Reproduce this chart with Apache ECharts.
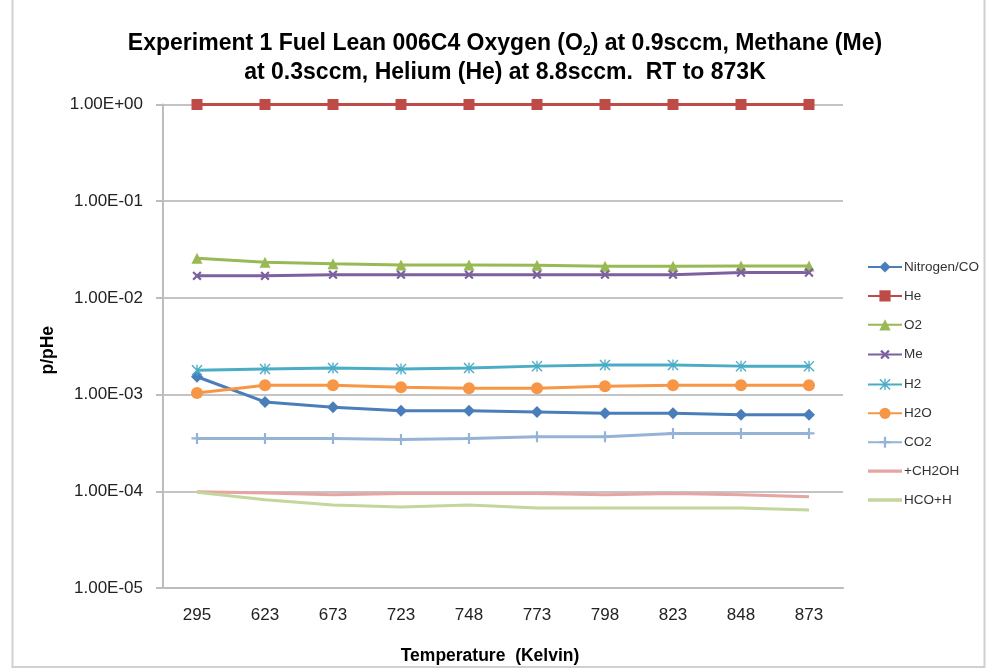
<!DOCTYPE html>
<html><head><meta charset="utf-8">
<script src="https://cdn.jsdelivr.net/npm/echarts@6/dist/echarts.min.js"></script>
<style>html,body{margin:0;padding:0;background:#fff}#c{width:989px;height:669px}</style>
</head><body><div id="c"></div>
<script>
const categories = ['295','623','673','723','748','773','798','823','848','873'];
const nitrogenCO = [1.53e-3, 8.4e-4, 7.4e-4, 6.8e-4, 6.8e-4, 6.6e-4, 6.4e-4, 6.4e-4, 6.2e-4, 6.2e-4];
const he = [1, 1, 1, 1, 1, 1, 1, 1, 1, 1];
const o2 = [0.0257, 0.0234, 0.0226, 0.0219, 0.0219, 0.0218, 0.0213, 0.0213, 0.0214, 0.0214];
const me = [0.0169, 0.0169, 0.0174, 0.0174, 0.0174, 0.0174, 0.0174, 0.0174, 0.0183, 0.0183];
const h2 = [1.79e-3, 1.84e-3, 1.88e-3, 1.84e-3, 1.88e-3, 1.97e-3, 2.02e-3, 2.02e-3, 1.97e-3, 1.97e-3];
const h2o = [1.04e-3, 1.25e-3, 1.25e-3, 1.19e-3, 1.16e-3, 1.16e-3, 1.22e-3, 1.25e-3, 1.25e-3, 1.25e-3];
const co2 = [3.52e-4, 3.52e-4, 3.52e-4, 3.44e-4, 3.52e-4, 3.66e-4, 3.66e-4, 3.97e-4, 3.97e-4, 3.97e-4];
const ch2oh = [9.9e-5, 9.6e-5, 9.2e-5, 9.5e-5, 9.5e-5, 9.5e-5, 9.2e-5, 9.5e-5, 9.2e-5, 8.8e-5];
const hcoh = [9.8e-5, 8.2e-5, 7.2e-5, 6.9e-5, 7.2e-5, 6.7e-5, 6.7e-5, 6.7e-5, 6.7e-5, 6.4e-5];
const seriesNames = ['Nitrogen/CO','He','O2','Me','H2','H2O','CO2','+CH2OH','HCO+H'];

const FONT = 'Liberation Sans';
const plusPath = 'path://M4,0H6V4H10V6H6V10H4V6H0V4H4Z';
const astPath = 'path://M4.4,0H5.6V10H4.4Z M0,0.9L0.9,0L10,9.1L9.1,10Z M9.1,0L10,0.9L0.9,10L0,9.1Z';
const lineIcon = 'path://M0,0H30V3H0Z';

function mk(name, data, color, symbol, size, extra) {
  return Object.assign({
    name: name, type: 'line', data: data,
    symbol: symbol, symbolSize: size,
    showSymbol: symbol !== 'none',
    lineStyle: { color: color, width: 3 },
    itemStyle: { color: color },
    emphasis: { disabled: true },
    animation: false
  }, extra || {});
}

const legendData = seriesNames.map(function (n) {
  return (n === '+CH2OH' || n === 'HCO+H') ? { name: n, icon: lineIcon } : { name: n };
});

const chart = echarts.init(document.getElementById('c'));
chart.setOption({
  backgroundColor: '#fff',
  animation: false,
  title: {
    text: 'Experiment 1 Fuel Lean 006C4 Oxygen (O{sub|2}) at 0.9sccm, Methane (Me)\nat 0.3sccm, Helium (He) at 8.8sccm.  RT to 873K',
    left: 500, top: 24, textAlign: 'center',
    textStyle: {
      fontFamily: FONT, fontWeight: 'bold', fontSize: 23, color: '#000', lineHeight: 29,
      rich: { sub: { fontFamily: FONT, fontWeight: 'bold', fontSize: 14, color: '#000', verticalAlign: 'bottom', padding: [9, 0, 0, 0] } }
    }
  },
  graphic: [{
    type: 'rect', shape: { x: 12.5, y: -2, width: 972, height: 669 },
    style: { fill: 'none', stroke: '#d0d0d0', lineWidth: 2 }, silent: true, z: -1
  }],
  grid: { left: 163, right: 146, top: 104.5, bottom: 81, containLabel: false, outerBoundsMode: 'none' },
  legend: {
    orient: 'vertical', left: 862, top: 255,
    itemWidth: 34, itemHeight: 14, itemGap: 14.9,
    textStyle: { fontFamily: FONT, fontSize: 13.5, color: '#333', padding: [0, 0, 0, -3] },
    data: legendData
  },
  xAxis: {
    type: 'category', data: categories, boundaryGap: true,
    name: 'Temperature  (Kelvin)', nameLocation: 'middle', nameGap: 59,
    nameTextStyle: { fontFamily: FONT, fontWeight: 'bold', fontSize: 17.5, color: '#000', padding: [0, 26, 0, 0] },
    axisLine: { lineStyle: { color: '#bdbdbd', width: 2 } },
    axisTick: { show: false },
    axisLabel: { fontFamily: FONT, fontSize: 17, color: '#222', margin: 19 }
  },
  yAxis: {
    type: 'log', logBase: 10, min: 1e-5, max: 1,
    name: 'p/pHe', nameLocation: 'middle', nameGap: 106, nameRotate: 90,
    nameTextStyle: { fontFamily: FONT, fontWeight: 'bold', fontSize: 17.5, color: '#000', padding: [0, 8, 0, 0] },
    axisLine: { show: true, lineStyle: { color: '#bdbdbd', width: 2 } },
    axisTick: { show: true, length: 7, lineStyle: { color: '#bdbdbd', width: 2 } },
    splitLine: { show: true, lineStyle: { color: '#c4c4c4', width: 2 } },
    axisLabel: {
      fontFamily: FONT, fontSize: 17, color: '#222', margin: 20,
      formatter: function (v) {
        const e = Math.round(Math.log10(v));
        const m = v / Math.pow(10, e);
        const s = e < 0 ? '-' : '+';
        const a = Math.abs(e);
        return m.toFixed(2) + 'E' + s + (a < 10 ? '0' + a : '' + a);
      }
    }
  },
  series: [
    mk('Nitrogen/CO', nitrogenCO, '#4a7ebb', 'diamond', 12),
    mk('He', he, '#be4b48', 'rect', 11),
    mk('O2', o2, '#98b954', 'triangle', 11),
    mk('Me', me, '#7d60a0', plusPath, 11, { symbolRotate: 45 }),
    mk('H2', h2, '#4bacc6', astPath, 11),
    mk('H2O', h2o, '#f79646', 'circle', 12),
    mk('CO2', co2, '#95b3d7', plusPath, 11),
    mk('+CH2OH', ch2oh, '#e6a4a3', 'none', 0),
    mk('HCO+H', hcoh, '#c3d69b', 'none', 0)
  ]
});
</script>
</body></html>
